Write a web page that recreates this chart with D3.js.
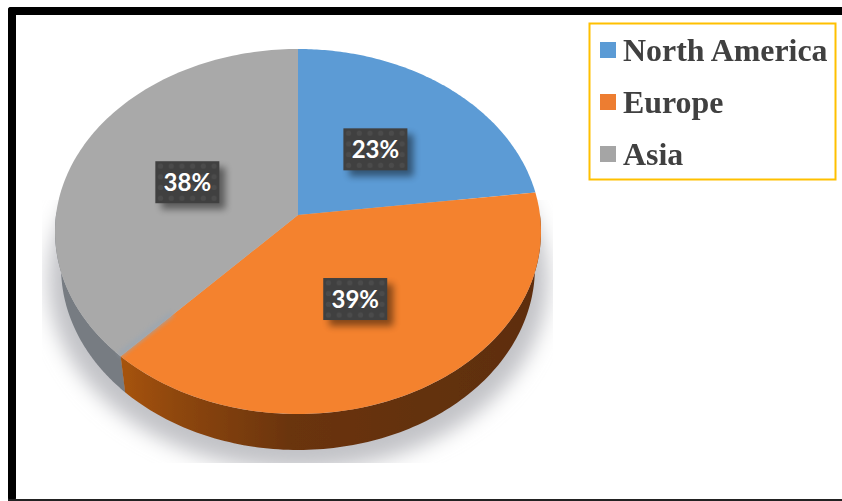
<!DOCTYPE html>
<html><head><meta charset="utf-8">
<script src="https://cdn.jsdelivr.net/npm/d3@7"></script>
<style>html,body{margin:0;padding:0;background:#fff;overflow:hidden}svg{display:block}</style>
</head><body>
<svg id="c" width="842" height="501"></svg>
<script>
const categories = ["North America", "Europe", "Asia"];
const shares = [23, 39, 38];
const topColors = ["#5B9BD5", "#F4822F", "#A9A9A9"];
const legendColors = ["#5B9BD5", "#ED7D31", "#A5A5A5"];

const svg = d3.select("#c");
const defs = svg.append("defs");

// perspective pie: unit disc -> screen
const cx = 298, apexY = 215, halfW = 242, persp = -0.0904, yScale = 161.57, depth = 36;
function project(r, a) {
  const u = r * Math.sin(a), v = -r * Math.cos(a), w = 1 + persp * v;
  return [cx + halfW * u / w, (yScale * v + apexY) / w];
}
function wallPoint(a) {
  const p = project(1, a);
  return [cx + (p[0] - cx) * 0.975, p[1] + depth];
}
const pieData = d3.pie().sort(null).value(d => d)(shares);
const line = d3.line();
const arcAngles = (a0, a1) => d3.range(0, 121).map(i => a0 + (a1 - a0) * i / 120);

function slicePath(d) {
  return line([project(0, 0), ...arcAngles(d.startAngle, d.endAngle).map(a => project(1, a))]) + "Z";
}
function wallPath(a0, a1) {
  const as = arcAngles(a0, a1);
  return line([...as.map(a => project(1, a)), ...as.slice().reverse().map(wallPoint)]) + "Z";
}

// filters & patterns
const blur = (id, s) => defs.append("filter").attr("id", id)
  .attr("x", "-20%").attr("y", "-20%").attr("width", "140%").attr("height", "140%")
  .append("feGaussianBlur").attr("stdDeviation", s);
blur("shadowBlur", 10);
blur("soft", 0.6);
blur("lblBlur", 3.5);
blur("seam", 2);
blur("txtSoft", 0.3);

defs.append("clipPath").attr("id", "shadowClip").append("rect")
  .attr("x", 42).attr("y", 200).attr("width", 511).attr("height", 263);

const pat = defs.append("pattern").attr("id", "dots").attr("patternUnits", "userSpaceOnUse")
  .attr("width", 10.7).attr("height", 10.7);
pat.append("rect").attr("width", 10.7).attr("height", 10.7).attr("fill", "#404040");
pat.append("circle").attr("cx", 5.3).attr("cy", 5.3).attr("r", 2.6).attr("fill", "#4B4B4B");

const grad = defs.append("linearGradient").attr("id", "euroWall")
  .attr("gradientUnits", "userSpaceOnUse").attr("x1", 125).attr("x2", 540).attr("y1", 0).attr("y2", 0);
[[0, "#A5530F"], [0.12, "#8F4710"], [0.4, "#6A3410"], [1, "#5E2E10"]].forEach(s =>
  grad.append("stop").attr("offset", s[0]).attr("stop-color", s[1]));

// frame
svg.append("rect").attr("x", 8).attr("y", 7).attr("width", 860).attr("height", 8).attr("rx", 3).attr("fill", "#000");
svg.append("rect").attr("x", 8).attr("y", 7).attr("width", 8).attr("height", 494).attr("rx", 3).attr("fill", "#000");
svg.append("rect").attr("x", 8).attr("y", 499).attr("width", 834).attr("height", 2).attr("fill", "#222");

// ground shadow
svg.append("g").attr("clip-path", "url(#shadowClip)")
  .append("ellipse").attr("cx", cx).attr("cy", 280).attr("rx", 250).attr("ry", 190)
  .attr("fill", "#C2C3C7").attr("filter", "url(#shadowBlur)");

// pie
const pie = svg.append("g").attr("filter", "url(#soft)");
const asia = pieData[2], europe = pieData[1];
pie.append("path").attr("d", wallPath(asia.startAngle - 0.001, Math.PI * 1.5 + 0.02)).attr("fill", "#777C82");
pie.append("path").attr("d", wallPath(Math.PI * 0.5, europe.endAngle)).attr("fill", "url(#euroWall)");
pie.selectAll("path.top").data(pieData).join("path").attr("class", "top")
  .attr("d", slicePath).attr("fill", (d, i) => topColors[i]);

// bluish seam along the Asia/Europe edge, near the rim
const seamA = project(0.72, europe.endAngle - 0.02), seamB = project(1, europe.endAngle - 0.01);
svg.append("path").attr("d", line([seamA, seamB])).attr("stroke", "#9AA6B2").attr("stroke-width", 5)
  .attr("fill", "none").attr("filter", "url(#seam)").attr("opacity", 0.8)
  .attr("transform", "translate(-3,-3)");

// data labels
const lblW = 64, lblH = 42;
const labels = svg.append("g").selectAll("g").data(pieData).join("g")
  .attr("transform", d => {
    const p = project(0.5, (d.startAngle + d.endAngle) / 2);
    return `translate(${p[0]},${p[1]})`;
  });
labels.append("rect").attr("x", -lblW / 2 + 6).attr("y", -lblH / 2 + 6).attr("width", lblW).attr("height", lblH)
  .attr("fill", "#000").attr("opacity", 0.45).attr("filter", "url(#lblBlur)");
labels.append("rect").attr("x", -lblW / 2).attr("y", -lblH / 2).attr("width", lblW).attr("height", lblH)
  .attr("fill", "url(#dots)");
labels.append("text").attr("text-anchor", "middle").attr("y", 8.5)
  .attr("font-family", "Lato, 'Open Sans', sans-serif").attr("font-weight", 700).attr("font-size", 24)
  .attr("fill", "#fff").text(d => d.data + "%");

// legend
svg.append("rect").attr("x", 589.5).attr("y", 23.5).attr("width", 246).attr("height", 156)
  .attr("fill", "#fff").attr("stroke", "#FFC000").attr("stroke-width", 2);
const legendY = d3.scalePoint().domain(categories).range([50, 154]);
const lg = svg.append("g").selectAll("g").data(categories).join("g")
  .attr("transform", d => `translate(600,${legendY(d)})`);
lg.append("rect").attr("y", -8).attr("width", 16).attr("height", 16).attr("fill", (d, i) => legendColors[i]);
lg.append("text").attr("x", 23).attr("y", 11)
  .attr("font-family", "'Liberation Serif', serif").attr("font-weight", 700).attr("font-size", 31.9)
  .attr("fill", "#404040").attr("filter", "url(#txtSoft)").text(d => d);
</script>
</body></html>
